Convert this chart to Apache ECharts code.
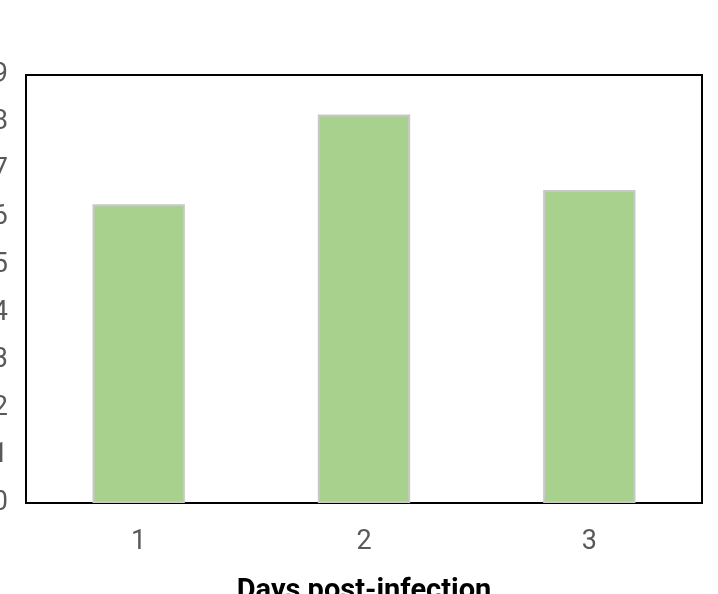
<!DOCTYPE html>
<html><head><meta charset="utf-8">
<script src="https://cdn.jsdelivr.net/npm/echarts@6/dist/echarts.min.js"></script>
<style>html,body{margin:0;padding:0;background:#fff}#c{width:718px;height:594px}</style>
</head><body><div id="c"></div>
<script>
const categories = ['1', '2', '3'];
const values = [6.28, 8.17, 6.58];
const yMin = 0, yMax = 9, yInterval = 1;
const xTitle = 'Days post-infection';

const chart = echarts.init(document.getElementById('c'));
chart.setOption({
  animation: false,
  grid: { left: 26, right: 16, top: 75, bottom: 91, show: true, borderColor: '#000', borderWidth: 2, backgroundColor: 'transparent', containLabel: false, outerBoundsMode: 'none' },
  xAxis: {
    type: 'category', data: categories,
    axisLine: { show: false }, axisTick: { show: false },
    axisLabel: { color: '#595959', fontSize: 27, fontFamily: 'Roboto', margin: 26 },
    name: xTitle, nameLocation: 'middle', nameGap: 74,
    nameTextStyle: { color: '#000', fontSize: 29, fontWeight: 'bold', fontFamily: 'Roboto' }
  },
  yAxis: {
    type: 'value', min: yMin, max: yMax, interval: yInterval,
    axisLine: { show: false }, axisTick: { show: false }, splitLine: { show: false },
    axisLabel: { color: '#595959', fontSize: 27, fontFamily: 'Roboto', margin: 18 }
  },
  series: [{
    type: 'bar', data: values, barWidth: '41%',
    itemStyle: { color: '#a9d18e', borderColor: '#c8c8c8', borderWidth: 2 }
  }]
});
</script></body></html>
